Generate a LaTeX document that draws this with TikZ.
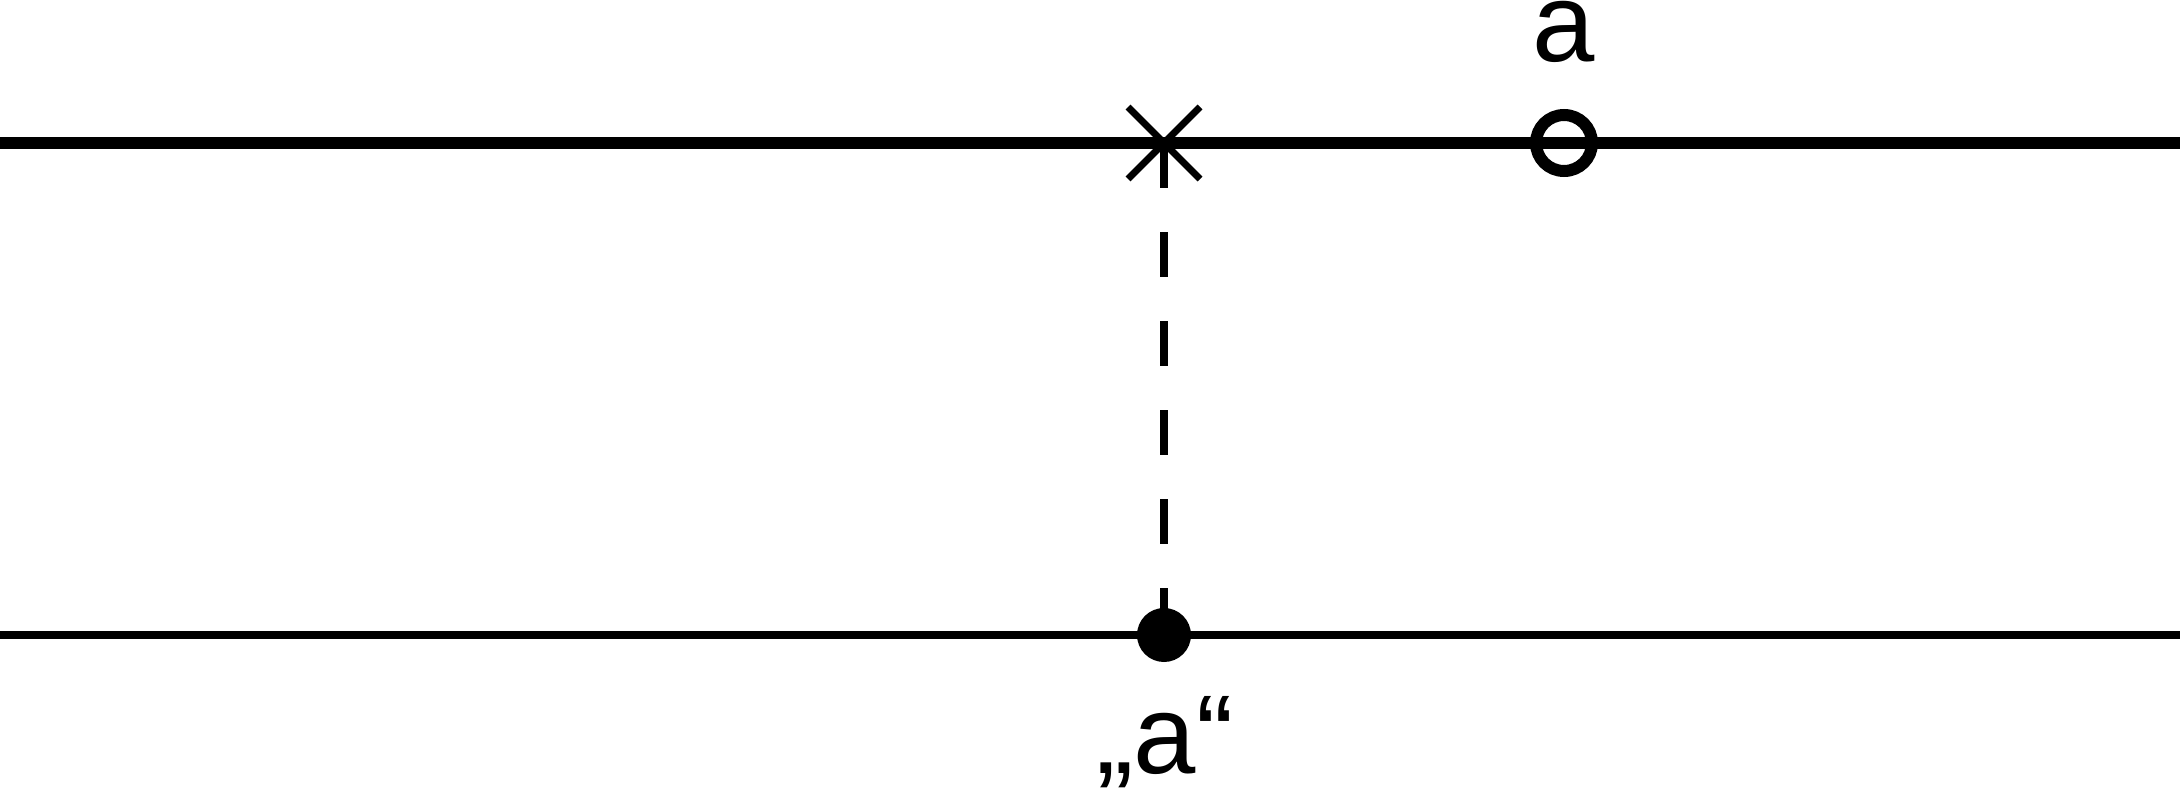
\documentclass[tikz,border=0pt]{standalone}
\usepackage{fontspec}
\setmainfont{Liberation Sans}
\begin{document}
\begin{tikzpicture}[x=0.5pt,y=-0.5pt,
  lbl/.style={font=\fontsize{56}{66}\selectfont, inner sep=0pt, anchor=base},
  dotnode/.style={circle, fill=black, inner sep=0pt, minimum size=27pt},
  ringnode/.style={circle, draw=black, line width=6pt, inner sep=0pt, minimum size=28pt},
  dashline/.style={line width=4pt, dash pattern=on 22.5pt off 22pt}]
\useasboundingbox (0,0) rectangle (2180,792);
% lines
\coordinate (tl) at (0,143);
\coordinate (tr) at (2180,143);
\coordinate (bl) at (0,635);
\coordinate (br) at (2180,635);
\draw[line width=6pt] (tl) -- (tr);
\draw[line width=4pt] (bl) -- (br);
% cross
\coordinate (x) at (1164,143);
\draw[line width=3.5pt] (1128,107) -- (1200,179);
\draw[line width=3.5pt] (1200,107) -- (1128,179);
% dot
\node[dotnode] (dot) at (1164,635) {};
\draw[dashline] (x) -- (dot.center);
% ring
\node[ringnode] (ring) at (1564,143) {};
% labels
\node[lbl] (la) at (1564,62) {a};
\node[lbl] (lb) at (1165,773) {„a“};
\end{tikzpicture}
\end{document}
